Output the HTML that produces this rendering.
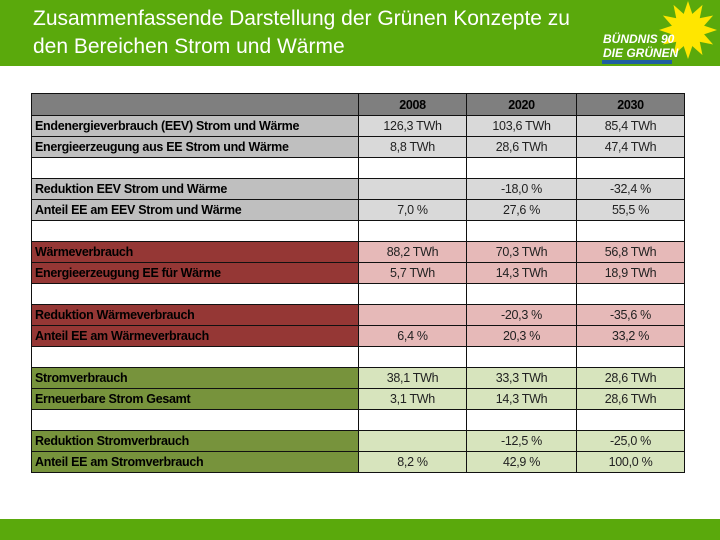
<!DOCTYPE html>
<html><head><meta charset="utf-8"><style>
*{margin:0;padding:0;box-sizing:border-box}
body{width:720px;height:540px;background:#fff;position:relative;overflow:hidden;font-family:"Liberation Sans",sans-serif}
#hdr{position:absolute;left:0;top:0;width:600px;height:66px;background:#5aa90c}
#title{position:absolute;left:33px;top:5px;color:#fff;font-size:21px;line-height:28px;letter-spacing:0px}
#logo{position:absolute;left:600px;top:0;width:120px;height:66px;background:#5aa90c}
#foot{position:absolute;left:0;top:519px;width:720px;height:21px;background:#5aa90c}
table{position:absolute;left:31px;top:93px;border-collapse:collapse;table-layout:fixed}
td{height:21px;border:1.5px solid #111;font-size:12.5px;padding:0 3px;white-space:nowrap;letter-spacing:-0.3px}
td.l{font-weight:bold;width:327px}
td.v{text-align:center;color:#222}
tr.h td{background:#7f7f7f;font-weight:bold;text-align:center;height:22px}
.g td.l{background:#bfbfbf}.g td.v{background:#d9d9d9}
.r td.l{background:#953735}.r td.v{background:#e6b9b8}
.n td.l{background:#77933c}.n td.v{background:#d7e4bd}
</style></head><body>
<div id="hdr"></div>
<div id="title">Zusammenfassende Darstellung der Grünen Konzepte zu<br>den Bereichen Strom und Wärme</div>
<div id="logo">
<svg width="120" height="66" viewBox="0 0 120 66">
<g fill="#ffe600">
<circle cx="88" cy="30" r="15"/>
<g transform="translate(88 30)">
<polygon points="-5,-14 0,-29 5,-14"/><polygon points="-5,-14 0,-29 5,-14" transform="rotate(30)"/><polygon points="-5,-14 0,-29 5,-14" transform="rotate(60)"/><polygon points="-5,-14 0,-29 5,-14" transform="rotate(90)"/><polygon points="-5,-14 0,-29 5,-14" transform="rotate(120)"/><polygon points="-5,-14 0,-29 5,-14" transform="rotate(150)"/><polygon points="-5,-14 0,-29 5,-14" transform="rotate(180)"/><polygon points="-5,-14 0,-29 5,-14" transform="rotate(210)"/><polygon points="-5,-14 0,-29 5,-14" transform="rotate(240)"/><polygon points="-5,-14 0,-29 5,-14" transform="rotate(270)"/><polygon points="-5,-14 0,-29 5,-14" transform="rotate(300)"/><polygon points="-5,-14 0,-29 5,-14" transform="rotate(330)"/>
</g></g>
<text x="3" y="43" fill="#fff" font-weight="bold" font-style="italic" font-size="12" font-family="Liberation Sans">BÜNDNIS 90</text>
<text x="3" y="57" fill="#fff" font-weight="bold" font-style="italic" font-size="12" font-family="Liberation Sans">DIE GRÜNEN</text>
<rect x="2" y="60" width="70" height="4" fill="#1f5fa0"/>
</svg></div>
<table>
<colgroup><col style="width:327px"><col style="width:108px"><col style="width:110px"><col style="width:108px"></colgroup>
<tr class="h"><td></td><td>2008</td><td>2020</td><td>2030</td></tr>
<tr class="g"><td class="l">Endenergieverbrauch (EEV) Strom und Wärme</td><td class="v">126,3 TWh</td><td class="v">103,6 TWh</td><td class="v">85,4 TWh</td></tr>
<tr class="g"><td class="l">Energieerzeugung aus EE Strom und Wärme</td><td class="v">8,8 TWh</td><td class="v">28,6 TWh</td><td class="v">47,4 TWh</td></tr>
<tr><td></td><td></td><td></td><td></td></tr>
<tr class="g"><td class="l">Reduktion EEV Strom und Wärme</td><td class="v"></td><td class="v">-18,0 %</td><td class="v">-32,4 %</td></tr>
<tr class="g"><td class="l">Anteil EE am EEV Strom und Wärme</td><td class="v">7,0 %</td><td class="v">27,6 %</td><td class="v">55,5 %</td></tr>
<tr><td></td><td></td><td></td><td></td></tr>
<tr class="r"><td class="l">Wärmeverbrauch</td><td class="v">88,2 TWh</td><td class="v">70,3 TWh</td><td class="v">56,8 TWh</td></tr>
<tr class="r"><td class="l">Energieerzeugung EE für Wärme</td><td class="v">5,7 TWh</td><td class="v">14,3 TWh</td><td class="v">18,9 TWh</td></tr>
<tr><td></td><td></td><td></td><td></td></tr>
<tr class="r"><td class="l">Reduktion Wärmeverbrauch</td><td class="v"></td><td class="v">-20,3 %</td><td class="v">-35,6 %</td></tr>
<tr class="r"><td class="l">Anteil EE am Wärmeverbrauch</td><td class="v">6,4 %</td><td class="v">20,3 %</td><td class="v">33,2 %</td></tr>
<tr><td></td><td></td><td></td><td></td></tr>
<tr class="n"><td class="l">Stromverbrauch</td><td class="v">38,1 TWh</td><td class="v">33,3 TWh</td><td class="v">28,6 TWh</td></tr>
<tr class="n"><td class="l">Erneuerbare Strom Gesamt</td><td class="v">3,1 TWh</td><td class="v">14,3 TWh</td><td class="v">28,6 TWh</td></tr>
<tr><td></td><td></td><td></td><td></td></tr>
<tr class="n"><td class="l">Reduktion Stromverbrauch</td><td class="v"></td><td class="v">-12,5 %</td><td class="v">-25,0 %</td></tr>
<tr class="n"><td class="l">Anteil EE am Stromverbrauch</td><td class="v">8,2 %</td><td class="v">42,9 %</td><td class="v">100,0 %</td></tr>
</table>
<div id="foot"></div>
</body></html>
